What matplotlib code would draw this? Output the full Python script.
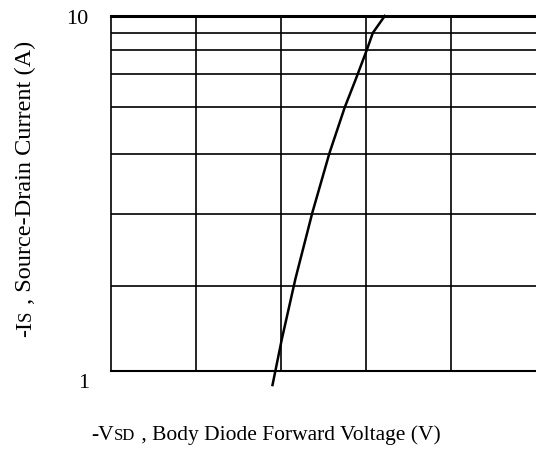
import numpy as np
import matplotlib
matplotlib.use('Agg')
import matplotlib.pyplot as plt
from matplotlib.transforms import offset_copy

# curve (x in grid divisions, y in A)
vsd = [1.90, 2.01, 2.17, 2.37, 2.57, 2.75, 2.88, 3.01, 3.08, 3.22]
i_s = [0.913, 1.23, 1.82, 2.80, 4.11, 5.53, 6.64, 8.03, 8.96, 10.0]

# horizontal grid lines as drawn in the picture
h_lines = [1.73, 2.77, 4.08, 5.55, 6.87, 8.02, 8.96]
v_lines = [1, 2, 3, 4]

plt.rcParams['font.family'] = ['Liberation Serif', 'DejaVu Serif']

W, H = 536, 456
fig = plt.figure(figsize=(W / 100, H / 100), dpi=100)
ax = fig.add_axes([111 / W, 1 - 372 / H, 1 - 111 / W, (372 - 17) / H])
ax.set_yscale('log')
ax.set_xlim(0, 5)
ax.set_ylim(1, 10)

for y in h_lines:
    ax.axhline(y, color='k', lw=1.2)
for x in v_lines:
    ax.axvline(x, color='k', lw=1.2)

ax.plot(vsd, i_s, color='k', lw=1.8, clip_on=False)

ax.spines['right'].set_visible(False)
ax.spines['top'].set_linewidth(2.2)
ax.spines['bottom'].set_linewidth(1.5)
ax.spines['left'].set_linewidth(1.2)
ax.set_xticks([])
ax.set_yticks([1, 10])
ax.set_yticklabels(['1', '10'], fontsize=16)
ax.yaxis.set_minor_locator(matplotlib.ticker.NullLocator())
ax.tick_params(axis='y', length=0, pad=16)
lab1 = ax.get_yticklabels()[0]
lab1.set_transform(offset_copy(lab1.get_transform(), fig=fig, x=0, y=-9, units='dots'))


def piece_text(x, y, parts, rotation=0):
    # lay out pieces one after another (to fake small caps)
    fig.canvas.draw()
    r = fig.canvas.get_renderer()
    objs = []
    total = 0
    for s, fs in parts:
        t = fig.text(0, 0, s, fontsize=fs, rotation=rotation,
                     ha='left', va='baseline', rotation_mode='anchor')
        bb = t.get_window_extent(r)
        w = bb.width if rotation == 0 else bb.height
        objs.append((t, w))
        total += w
    pos = -total / 2
    for t, w in objs:
        if rotation == 0:
            t.set_position((x + pos / W, y))
        else:
            t.set_position((x, y + pos / H))
        pos += w


piece_text(266 / W, 1 - 440 / H,
           [('-V', 15.5), ('SD', 12), (' , Body Diode Forward Voltage (V)', 15.5)])
piece_text(31 / W, 1 - 189 / H,
           [('-I', 17.5), ('S', 13.5), (' , Source-Drain Current (A)', 17.5)], rotation=90)

fig.savefig('out.png', dpi=100)
